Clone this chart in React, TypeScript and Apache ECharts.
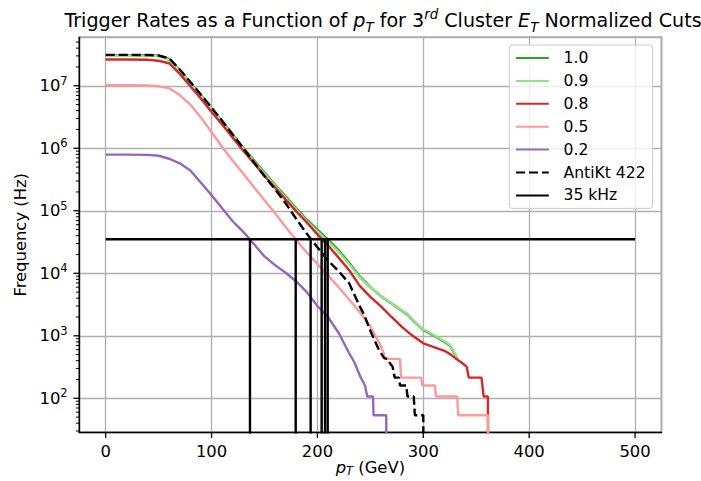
import React, { useEffect, useRef } from 'react';
import * as echarts from 'echarts';

const FONT = "'DejaVu Sans', 'Noto Sans', sans-serif";

// legend labels
const cutNames = ['1.0', '0.9', '0.8', '0.5', '0.2'];
const jetName = 'AntiKt 422';
const thresholdName = '35 kHz';

// [pT (GeV), rate (Hz)]
const rate10 = [
  [0, 3.09e7], [20, 3.09e7], [40, 3.07e7], [50, 3.02e7], [60, 2.69e7], [70, 1.78e7], [80, 1.12e7],
  [90, 7.1e6], [100, 4.37e6], [110, 2.69e6], [120, 1.66e6], [130, 1.02e6], [140, 6.5e5], [150, 4.1e5],
  [160, 2.6e5], [170, 1.7e5], [180, 1.1e5], [190, 7.2e4], [200, 5.0e4], [210, 3.47e4], [220, 2.35e4],
  [230, 1.48e4], [240, 8.9e3], [250, 6.0e3], [255, 5.1e3], [260, 4.3e3], [270, 3.3e3], [280, 2.5e3],
  [285, 2.2e3], [290, 1.78e3], [300, 1.23e3], [305, 1.12e3], [310, 1.0e3], [320, 794], [325, 700],
  [330, 501], [332, 427],
];
const rate09 = [
  [0, 3.02e7], [20, 3.02e7], [40, 3.0e7], [50, 2.95e7], [60, 2.6e7], [70, 1.74e7], [80, 1.09e7],
  [90, 6.9e6], [100, 4.25e6], [110, 2.6e6], [120, 1.6e6], [130, 9.8e5], [140, 6.2e5], [150, 3.9e5],
  [160, 2.5e5], [170, 1.62e5], [180, 1.05e5], [190, 6.8e4], [200, 4.7e4], [210, 3.25e4], [220, 2.2e4],
  [230, 1.4e4], [240, 8.6e3], [250, 5.9e3], [255, 5.2e3], [260, 4.3e3], [270, 3.35e3], [280, 2.55e3],
  [285, 2.25e3], [290, 1.82e3], [300, 1.26e3], [305, 1.15e3], [310, 1.03e3], [320, 820], [325, 720],
  [330, 520], [332, 440],
];
const rate08 = [
  [0, 2.63e7], [20, 2.63e7], [40, 2.6e7], [50, 2.51e7], [60, 2.29e7], [70, 1.55e7], [80, 9.8e6],
  [90, 6.2e6], [100, 3.8e6], [110, 2.4e6], [120, 1.48e6], [130, 9.1e5], [140, 5.75e5], [150, 3.6e5],
  [160, 2.35e5], [170, 1.51e5], [180, 9.8e4], [190, 6.5e4], [200, 4.2e4], [210, 2.8e4], [220, 1.78e4],
  [230, 1.12e4], [240, 6.3e3], [250, 4.2e3], [260, 2.95e3], [270, 2.0e3], [280, 1.38e3], [290, 1.0e3],
  [300, 759], [310, 661], [320, 575], [326, 500], [331, 428], [336, 374], [341, 321], [343, 214],
  [355, 214], [357, 107], [361, 107], [361.5, 1],
];
const rate05 = [
  [0, 1.02e7], [20, 1.02e7], [40, 1.01e7], [50, 9.8e6], [60, 9.1e6], [70, 7.1e6], [80, 5.0e6],
  [90, 3.09e6], [100, 1.82e6], [110, 1.05e6], [120, 6.3e5], [130, 3.9e5], [140, 2.4e5], [150, 1.48e5],
  [160, 9.1e4], [170, 5.5e4], [180, 3.4e4], [190, 2.14e4], [200, 1.41e4], [210, 9.3e3], [220, 6.0e3],
  [230, 3.8e3], [240, 2.4e3], [250, 1.41e3], [258, 794], [262, 562], [264, 428], [278, 428],
  [279, 214], [298, 214], [299, 160], [311, 160], [312, 107], [332, 107], [333, 53.5], [361, 53.5],
  [362.5, 1],
];
const rate02 = [
  [0, 7.9e5], [20, 7.9e5], [40, 7.85e5], [50, 7.6e5], [60, 6.8e5], [70, 5.75e5], [80, 4.4e5],
  [90, 2.8e5], [100, 1.78e5], [110, 1.1e5], [120, 6.8e4], [130, 4.6e4], [140, 2.95e4], [150, 1.86e4],
  [160, 1.35e4], [170, 1.02e4], [180, 7.4e3], [190, 5.0e3], [200, 3.0e3], [210, 2.0e3], [220, 1.12e3],
  [230, 525], [235, 374], [241, 214], [245, 160], [247, 107], [252.5, 107], [253, 53.5], [265, 53.5],
  [265.5, 1],
];
const rateAntiKt = [
  [0, 3.12e7], [20, 3.12e7], [40, 3.1e7], [50, 3.05e7], [60, 2.75e7], [70, 1.82e7], [80, 1.15e7],
  [90, 7.2e6], [100, 4.47e6], [110, 2.75e6], [120, 1.66e6], [130, 1.0e6], [140, 6.0e5], [150, 3.6e5],
  [160, 2.2e5], [170, 1.32e5], [180, 7.4e4], [190, 4.3e4], [200, 2.6e4], [210, 1.6e4], [220, 1.08e4],
  [230, 6.9e3], [240, 2.95e3], [244, 2.2e3], [250, 1.2e3], [258, 600], [263, 440], [266, 428],
  [268, 374], [271, 321], [273, 214], [277, 214], [278, 160], [284, 160], [285, 107], [291, 107],
  [292, 53.5], [300, 53.5], [300.5, 1],
];
const thresholdHz = 35000;
const thresholdLine = [[0, thresholdHz], [500, thresholdHz]];
// pT where each curve crosses 35 kHz
const crossingPt = [136.3, 179.5, 193.6, 204.0, 207.2, 209.7];

const xRange = [-25, 525];
const yRange = [28.6, 5.96e7];
const xTickValues = [0, 100, 200, 300, 400, 500];
const yMajorTicks = [1e2, 1e3, 1e4, 1e5, 1e6, 1e7];
const minorMultipliers = [2, 3, 4, 5, 6, 7, 8, 9];
const minorDecades = [10, 100, 1000, 1e4, 1e5, 1e6, 1e7];

const colors = ['#2ca02c', '#98df8a', '#d62728', '#ff9896', '#9467bd'];

const FS = 16.4; // 10pt
const FS_SMALL = 11.5;
const FS_LEGEND = 15.6;
const FS_TITLE = 19.1;
const LW = 2.4;

export default function App() {
  const ref = useRef<HTMLDivElement>(null);
  useEffect(() => {
    const chart = echarts.init(ref.current!, null, { renderer: 'svg' });
    const yMinorTicks: number[] = [];
    minorDecades.forEach((d) => minorMultipliers.forEach((m) => {
      const v = d * m;
      if (v >= yRange[0] && v <= yRange[1]) yMinorTicks.push(v);
    }));

    const mkLine = (name: string, data: number[][], color: string, dashed = false) => ({
      name,
      type: 'line',
      data,
      symbol: 'none',
      showSymbol: false,
      clip: true,
      silent: true,
      lineStyle: { color, width: LW, type: dashed ? [9.1, 3.9] : 'solid' },
      itemStyle: { color },
    });

    const curveData = [rate10, rate09, rate08, rate05, rate02];
    const series: any[] = curveData.map((d, i) => mkLine(cutNames[i], d, colors[i]));
    series.push(mkLine(jetName, rateAntiKt, '#000', true));
    series.push(mkLine(thresholdName, thresholdLine, '#000'));
    crossingPt.forEach((x, i) => {
      series.push(mkLine('cross' + i, [[x, thresholdHz], [x, 1]], '#000'));
    });

    const tickSeries = (name: string, data: number[][], kind: 'x' | 'yMajor' | 'yMinor') => ({
      name,
      type: 'custom',
      silent: true,
      clip: false,
      z: 10,
      data,
      renderItem: (_p: any, api: any) => {
        const p = api.coord([api.value(0), api.value(1)]);
        if (kind === 'x') {
          return { type: 'line', shape: { x1: p[0], y1: p[1], x2: p[0], y2: p[1] + 5.7 }, style: { stroke: '#000', lineWidth: 1.3 } };
        }
        const len = kind === 'yMajor' ? 5.7 : 3.3;
        const w = kind === 'yMajor' ? 1.3 : 1.0;
        return { type: 'line', shape: { x1: p[0] - len, y1: p[1], x2: p[0], y2: p[1] }, style: { stroke: '#000', lineWidth: w } };
      },
    });
    series.push(tickSeries('xTicks', xTickValues.map((v) => [v, yRange[0]]), 'x'));
    series.push(tickSeries('yMajorTicks', yMajorTicks.map((v) => [xRange[0], v]), 'yMajor'));
    series.push(tickSeries('yMinorTicks', yMinorTicks.map((v) => [xRange[0], v]), 'yMinor'));

    const option: any = {
      animation: false,
      backgroundColor: '#fff',
      textStyle: { fontFamily: FONT },
      graphic: [
        {
          type: 'text',
          x: 383,
          y: 20.5,
          z: 100,
          style: {
            text: 'Trigger Rates as a Function of {i|p}{sub|T} for 3{sup|rd} Cluster {i|E}{sub|T} Normalized Cuts',
            align: 'center',
            verticalAlign: 'middle',
            fontFamily: FONT,
            fontSize: FS_TITLE,
            lineHeight: 26,
            fill: '#000',
            rich: {
              i: { fontStyle: 'italic', fontFamily: FONT, fontSize: FS_TITLE, lineHeight: 26, fill: '#000' },
              sub: { fontStyle: 'italic', fontFamily: FONT, fontSize: 13.4, lineHeight: 14, verticalAlign: 'bottom', fill: '#000' },
              sup: { fontStyle: 'italic', fontFamily: FONT, fontSize: 13.4, lineHeight: 14, verticalAlign: 'top', fill: '#000' },
            },
          },
        },
      ],
      grid: {
        left: 79.2,
        right: 39.5,
        top: 37.3,
        bottom: 48.7,
        show: true,
        borderColor: '#000',
        borderWidth: 1.3,
        containLabel: false,
        outerBoundsMode: 'none',
      },
      legend: {
        data: [...cutNames, jetName, thresholdName],
        orient: 'vertical',
        left: 509.3,
        top: 45,
        itemWidth: 32.8,
        itemHeight: 14,
        itemGap: 6.9,
        padding: [5, 7, 5, 5.7],
        backgroundColor: 'rgba(255,255,255,0.8)',
        borderColor: '#cccccc',
        borderWidth: 1,
        borderRadius: 3,
        selectedMode: false,
        itemStyle: { opacity: 0, color: 'rgba(0,0,0,0)', borderWidth: 0 },
        textStyle: { fontFamily: FONT, fontSize: FS_LEGEND, color: '#000', padding: [0, 0, 0, 9.7] },
      },
      xAxis: {
        type: 'value',
        min: xRange[0],
        max: xRange[1],
        axisLine: { show: true, onZero: false, lineStyle: { color: '#000', width: 1.3 } },
        axisTick: { show: false },
        axisLabel: {
          showMinLabel: false,
          showMaxLabel: false,
          margin: 11.5,
          fontFamily: FONT,
          fontSize: FS,
          color: '#000',
        },
        splitLine: { show: true, lineStyle: { color: '#b0b0b0', width: 1.3 } },
        name: '{i|p}{sub|T} (GeV)',
        nameLocation: 'middle',
        nameGap: 25,
        nameMoveOverlap: false,
        nameTextStyle: {
          fontFamily: FONT,
          fontSize: FS,
          color: '#000',
          lineHeight: 20,
          rich: {
            i: { fontStyle: 'italic', fontFamily: FONT, fontSize: FS, lineHeight: 20, color: '#000' },
            sub: { fontStyle: 'italic', fontFamily: FONT, fontSize: FS_SMALL, lineHeight: 12, verticalAlign: 'bottom', color: '#000' },
          },
        },
      },
      yAxis: {
        type: 'log',
        logBase: 10,
        min: yRange[0],
        max: yRange[1],
        axisLine: { show: true, onZero: false, lineStyle: { color: '#000', width: 1.3 } },
        axisTick: { show: false },
        axisLabel: {
          showMinLabel: false,
          showMaxLabel: false,
          margin: 11.5,
          formatter: (v: number) => `{b|10}{s|${Math.round(Math.log10(v))}}`,
          rich: {
            b: { fontFamily: FONT, fontSize: FS, lineHeight: 22, color: '#000' },
            s: { fontFamily: FONT, fontSize: FS_SMALL, lineHeight: 12, verticalAlign: 'top', color: '#000' },
          },
        },
        splitLine: { show: true, lineStyle: { color: '#b0b0b0', width: 1.3 } },
        name: 'Frequency (Hz)',
        nameLocation: 'middle',
        nameRotate: 90,
        nameGap: 50,
        nameTextStyle: { fontFamily: FONT, fontSize: FS, color: '#000' },
      },
      series,
    };
    chart.setOption(option);
    return () => chart.dispose();
  }, []);
  return (
    <div
      ref={ref}
      style={{ position: 'fixed', left: 0, top: 0, width: 701, height: 481, background: '#fff' }}
    />
  );
}
